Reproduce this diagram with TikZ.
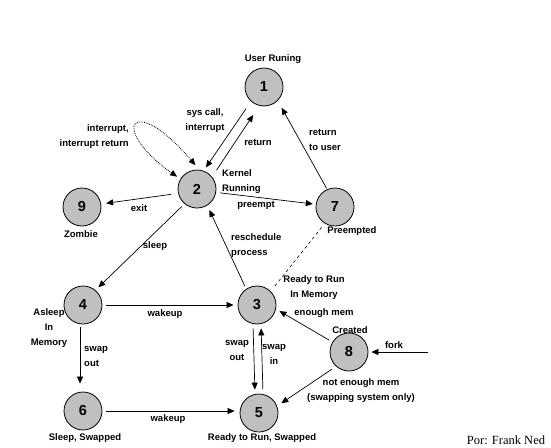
\documentclass[tikz,border=0pt]{standalone}
\usepackage{fontspec}
\setmainfont{Liberation Sans}
\newfontfamily\serifp{Liberation Serif}
\usetikzlibrary{arrows.meta}
\definecolor{stategray}{RGB}{192,192,192}
\begin{document}
\begin{tikzpicture}[x=1pt,y=-1pt,
  state/.style={circle,draw=black,line width=0.8pt,fill=stategray,minimum size=38pt,inner sep=0pt,font=\fontsize{14.5}{14.5}\selectfont\bfseries},
  lbl/.style={font=\fontsize{9.5}{15}\selectfont\bfseries,inner sep=0pt},
  tip/.tip={Triangle[length=7pt,width=6pt]},
  arr/.style={draw=black,line width=0.7pt,-tip},
]
\useasboundingbox (0,0) rectangle (551,447);
% states
\node[state] (n1) at (264,87) {1};
\node[state] (n2) at (197,189) {2};
\node[state] (n9) at (82,207) {9};
\node[state] (n7) at (335,207) {7};
\node[state] (n3) at (257,305) {3};
\node[state] (n4) at (83,305) {4};
\node[state] (n6) at (83,411) {6};
\node[state] (n5) at (259,413) {5};
\node[state] (n8) at (349,352) {8};
\coordinate (fk) at (428,352);
% labels
\node[lbl] (lUser) at (273,59) {User Runing};
\node[lbl,align=center] (lSys) at (205,120.5) {sys call,\\interrupt};
\node[lbl,align=right,anchor=east] (lInt) at (129,136.5) {interrupt,\\interrupt return};
\node[lbl] (lRet) at (258,142) {return};
\node[lbl,align=left,anchor=west] (lKern) at (222,182) {Kernel\\Running};
\node[lbl] (lPre) at (256,205) {preempt};
\node[lbl] (lExit) at (139,208) {exit};
\node[lbl] (lZomb) at (81,234) {Zombie};
\node[lbl,align=left,anchor=west] (lRetU) at (309,139.5) {return\\to user};
\node[lbl] (lPreempted) at (352,231) {Preempted};
\node[lbl,align=left,anchor=west] (lResch) at (231,245.5) {reschedule\\process};
\node[lbl] (lSleep) at (155,246) {sleep};
\node[lbl,align=center] (lRRM) at (314,287.5) {Ready to Run\\In Memory};
\node[lbl,align=center] (lAsleep) at (49,328) {Asleep\\In\\Memory};
\node[lbl] (lWake1) at (165,314) {wakeup};
\node[lbl,align=left,anchor=west] (lSwO1) at (84,356.5) {swap\\out};
\node[lbl] (lWake2) at (168,419) {wakeup};
\node[lbl] (lSleepSw) at (85,438) {Sleep, Swapped};
\node[lbl,align=center] (lSwO2) at (237,350) {swap\\out};
\node[lbl,align=center] (lSwIn) at (274,354) {swap\\in};
\node[lbl] (lRRS) at (262,438) {Ready to Run, Swapped};
\node[lbl] (lEnough) at (324,313) {enough mem};
\node[lbl] (lCreated) at (350,330) {Created};
\node[lbl] (lFork) at (394,345) {fork};
\node[lbl,align=center] (lNotEn) at (361,391) {not enough mem\\(swapping system only)};
\node[font=\serifp\fontsize{12.5}{13}\selectfont,inner sep=0pt] (lPor) at (506,440) {Por: Frank Ned};
% connectors
\draw[arr,shorten <=9pt,shorten >=4pt] (n1.228) -- (n2.70);
\draw[arr,shorten <=8pt,shorten >=11pt] (n2.39) -- (n1.256);
\draw[densely dotted,line width=0.8pt,tip-tip,shorten <=4pt,shorten >=6pt]
  (n2.149) .. controls (108,128) and (132,91) .. (n2.83);
\draw[arr,shorten <=7pt,shorten >=5pt] (n2.193) -- (n9.9);
\draw[arr,shorten <=4pt,shorten >=3pt] (n2.-10) -- (n7.172);
\draw[arr,shorten <=1pt,shorten >=8pt] (n7.114) -- (n1.-45);
\draw[arr,shorten <=4pt,shorten >=4pt] (n2.230) -- (n4.50);
\draw[arr,shorten <=3pt,shorten >=5pt] (n3.124) -- (n2.-58);
\draw[dashed,line width=0.6pt,shorten <=5pt,shorten >=4pt] (n7.238) -- (n3.45);
\draw[arr,shorten <=4pt,shorten >=4pt] (n4.east) -- (n3.west);
\draw[arr,shorten <=3pt,shorten >=8pt] ([xshift=-3pt]n4.south) -- ([xshift=-3pt]n6.north);
\draw[arr,shorten <=4pt,shorten >=5pt] (n6.east) -- (n6.east -| n5.west);
\draw[arr,shorten <=4pt,shorten >=4pt] ([xshift=-4pt]n3.south) -- ([xshift=-4pt]n5.north);
\draw[arr,shorten <=4pt,shorten >=4pt] ([xshift=4pt]n5.north) -- ([xshift=4pt]n3.south);
\draw[arr,shorten <=4pt,shorten >=4pt] (n8.149) -- (n3.-12);
\draw[arr,shorten <=5pt,shorten >=5pt] (n8.228) -- (n5.21);
\draw[arr,shorten >=3pt] (fk) -- (n8.east);
\end{tikzpicture}
\end{document}
